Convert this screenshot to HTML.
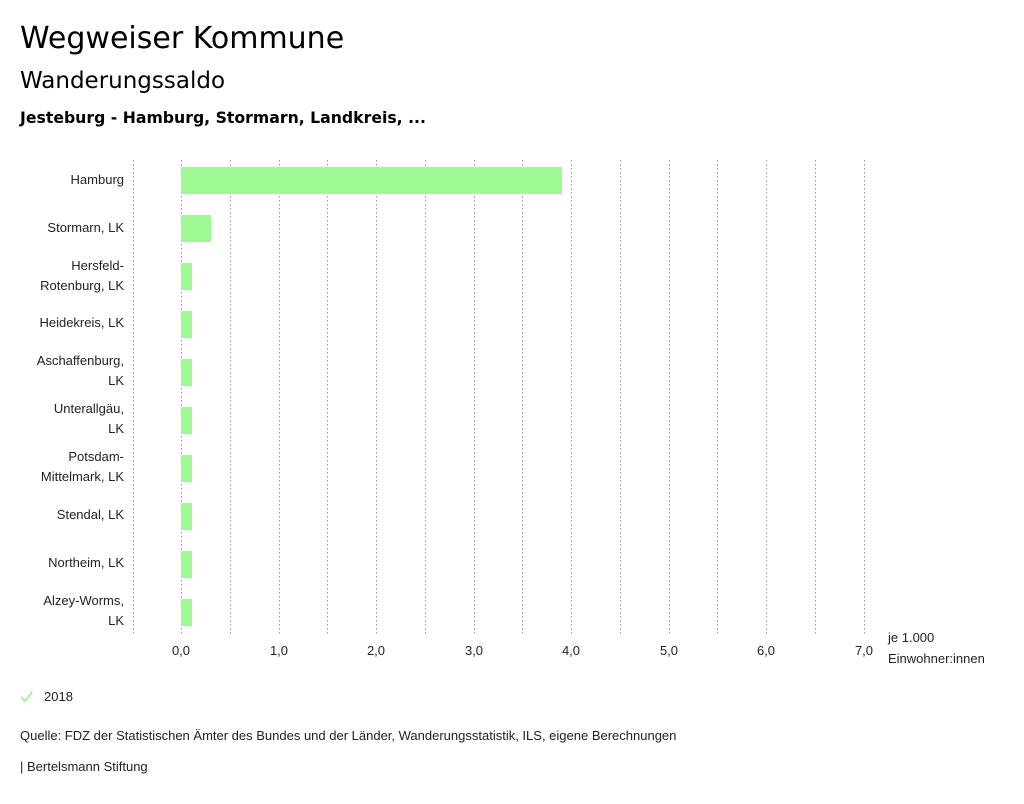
<!DOCTYPE html>
<html><head><meta charset="utf-8"><style>
body{margin:0;background:#fff;width:1024px;height:799px;overflow:hidden;font-family:"Liberation Sans",sans-serif;color:#000}
</style></head><body>
<svg width="1024" height="799" xmlns="http://www.w3.org/2000/svg" font-family="Liberation Sans, sans-serif">
<text x="20" y="48" font-size="30" font-family="DejaVu Sans, sans-serif">Wegweiser Kommune</text>
<text x="20" y="88" font-size="23" font-family="DejaVu Sans, sans-serif">Wanderungssaldo</text>
<text x="20" y="123" font-size="15.7" font-weight="bold" font-family="DejaVu Sans, sans-serif">Jesteburg - Hamburg, Stormarn, Landkreis, ...</text>
<g stroke="#999" stroke-width="1" stroke-dasharray="1.5,2.5">
<line x1="133.5" y1="160" x2="133.5" y2="634"/><line x1="181.5" y1="160" x2="181.5" y2="634"/><line x1="230.5" y1="160" x2="230.5" y2="634"/><line x1="279.5" y1="160" x2="279.5" y2="634"/><line x1="327.5" y1="160" x2="327.5" y2="634"/><line x1="376.5" y1="160" x2="376.5" y2="634"/><line x1="425.5" y1="160" x2="425.5" y2="634"/><line x1="474.5" y1="160" x2="474.5" y2="634"/><line x1="522.5" y1="160" x2="522.5" y2="634"/><line x1="571.5" y1="160" x2="571.5" y2="634"/><line x1="620.5" y1="160" x2="620.5" y2="634"/><line x1="669.5" y1="160" x2="669.5" y2="634"/><line x1="717.5" y1="160" x2="717.5" y2="634"/><line x1="766.5" y1="160" x2="766.5" y2="634"/><line x1="815.5" y1="160" x2="815.5" y2="634"/><line x1="864.5" y1="160" x2="864.5" y2="634"/>
</g>
<g fill="#9cf994">
<rect x="181" y="167" width="381" height="27"/>
<rect x="181" y="215" width="30" height="27"/>
<rect x="181" y="263" width="11" height="27"/>
<rect x="181" y="311" width="11" height="27"/>
<rect x="181" y="359" width="11" height="27"/>
<rect x="181" y="407" width="11" height="27"/>
<rect x="181" y="455" width="11" height="27"/>
<rect x="181" y="503" width="11" height="27"/>
<rect x="181" y="551" width="11" height="27"/>
<rect x="181" y="599" width="11" height="27"/>
</g>
<g font-size="13" text-anchor="end" fill="#222">
<text x="124" y="184">Hamburg</text>
<text x="124" y="232">Stormarn, LK</text>
<text x="124" y="270">Hersfeld-</text><text x="124" y="290">Rotenburg, LK</text>
<text x="124" y="327">Heidekreis, LK</text>
<text x="124" y="365">Aschaffenburg,</text><text x="124" y="385">LK</text>
<text x="124" y="413">Unterallgäu,</text><text x="124" y="433">LK</text>
<text x="124" y="461">Potsdam-</text><text x="124" y="481">Mittelmark, LK</text>
<text x="124" y="519">Stendal, LK</text>
<text x="124" y="567">Northeim, LK</text>
<text x="124" y="605">Alzey-Worms,</text><text x="124" y="625">LK</text>
</g>
<g font-size="13" text-anchor="middle" fill="#222">
<text x="181" y="655">0,0</text><text x="279" y="655">1,0</text><text x="376" y="655">2,0</text><text x="474" y="655">3,0</text><text x="571" y="655">4,0</text><text x="669" y="655">5,0</text><text x="766" y="655">6,0</text><text x="864" y="655">7,0</text>
</g>
<text x="888" y="642" font-size="13" fill="#222">je 1.000</text>
<text x="888" y="663" font-size="13" fill="#222">Einwohner:innen</text>
<polyline points="21,697 25,701 32,692" fill="none" stroke="#9cf994" stroke-width="2"/>
<text x="44" y="701" font-size="13" fill="#222">2018</text>
<text x="20" y="740" font-size="13" fill="#222">Quelle: FDZ der Statistischen Ämter des Bundes und der Länder, Wanderungsstatistik, ILS, eigene Berechnungen</text>
<text x="20" y="771" font-size="13" fill="#222">| Bertelsmann Stiftung</text>
</svg>
</body></html>
